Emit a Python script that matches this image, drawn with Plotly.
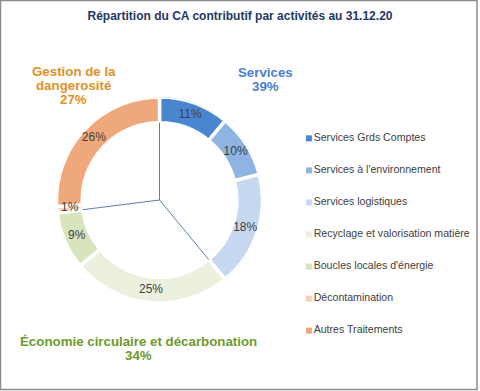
import plotly.graph_objects as go

# ---- data ----
categories = ["Services Grds Comptes", "Services à l'environnement", "Services logistiques",
              "Recyclage et valorisation matière", "Boucles locales d'énergie",
              "Décontamination", "Autres Traitements"]
values = [11, 10, 18, 25, 9, 1, 26]
colors = ["#4a86d0", "#8eb4e3", "#c6d9f1", "#ebf1de", "#d7e4bc", "#fbd0b2", "#eea87b"]

group_lines = [["Services"], ["Économie circulaire et décarbonation"], ["Gestion de la", "dangerosité"]]
group_sizes = [3, 2, 2]          # number of categories in each group
group_colors = ["#4a7fcb", "#6f9a2c", "#e0911f"]
title = "Répartition du CA contributif par activités au 31.12.20"

FONT = "Liberation Sans, Arial, sans-serif"
W, H = 480, 391
HOLE = 0.75

# donut geometry (pixel layout)
cx, cy, R = 159.5, 200.0, 103.0
dom_x = [(cx - R) / W, (cx + R) / W]
dom_y = [1 - (cy + R) / H, 1 - (cy - R) / H]

total = sum(values)
fig = go.Figure()

# slice angles from the data
cum = 0
mids, widths, texts = [], [], []
for v in values:
    mids.append((cum + v / 2) / total * 360)
    widths.append(v / total * 360)
    texts.append(f"{round(v / total * 100)}%")
    cum += v

fig.add_trace(go.Barpolar(
    theta=mids, r=[1 - HOLE] * len(values), base=[HOLE] * len(values), width=widths,
    marker=dict(color=colors, line=dict(color="white", width=3.5)),
    hovertext=[f"{c}: {v}%" for c, v in zip(categories, values)], hoverinfo="text",
    showlegend=False,
))

fig.add_trace(go.Scatterpolar(
    r=[(HOLE + 1) / 2] * len(values), theta=mids, text=texts, mode="text",
    textfont=dict(family=FONT, size=12, color="#404040"), hoverinfo="skip",
    showlegend=False, cliponaxis=False,
))

# group separator lines from centre to inner ring
r_line, t_line = [], []
start = 0
idx = 0
for gsize in group_sizes:
    ang = start / total * 360
    r_line += [0, HOLE, None]
    t_line += [ang, ang, None]
    start += sum(values[idx:idx + gsize])
    idx += gsize
fig.add_trace(go.Scatterpolar(
    r=r_line, theta=t_line, mode="lines", line=dict(color="#5b7eb0", width=1),
    hoverinfo="skip", showlegend=False,
))

# legend drawn as a categorical column
fig.add_trace(go.Scatter(
    x=[0] * len(categories), y=categories, mode="markers+text",
    marker=dict(symbol="square", size=6, color=colors),
    text=categories, textposition="middle right",
    textfont=dict(family=FONT, size=10.6, color="#404040"),
    hoverinfo="skip", showlegend=False, cliponaxis=False,
    xaxis="x", yaxis="y",
))

# group annotations (one annotation per line for tight line spacing)
group_totals = []
idx = 0
for gsize in group_sizes:
    group_totals.append(sum(values[idx:idx + gsize]))
    idx += gsize
group_pos = [(265, 72), (138, 341), (73.5, 71)]   # centre x, first-line y (px)
LINE_H = 14.3
annotations = []
for lines, gt, gc, (px, py) in zip(group_lines, group_totals, group_colors, group_pos):
    for k, line in enumerate(lines + [f"{round(gt / total * 100)}%"]):
        annotations.append(dict(
            text=f"<b>{line}</b>", x=px / W, y=1 - (py + k * LINE_H) / H,
            xref="paper", yref="paper", xanchor="center", yanchor="middle",
            showarrow=False, font=dict(family=FONT, size=13.3, color=gc),
        ))

fig.update_layout(
    width=W, height=H, margin=dict(l=0, r=0, t=0, b=0),
    paper_bgcolor="white", plot_bgcolor="rgba(0,0,0,0)",
    title=dict(text=f"<b>{title}</b>", x=0.5, xanchor="center", y=1 - 16 / H, yanchor="middle",
               font=dict(family=FONT, size=12, color="#1f3864")),
    polar=dict(domain=dict(x=dom_x, y=dom_y), bgcolor="rgba(0,0,0,0)",
               radialaxis=dict(visible=False, range=[0, 1]),
               angularaxis=dict(visible=False, direction="clockwise", rotation=90)),
    xaxis=dict(domain=[0.64, 1.0], range=[-0.05, 5], visible=False, fixedrange=True),
    yaxis=dict(domain=[1 - 346.7 / H, 1 - 122.3 / H], range=[6.5, -0.5], type="category",
               categoryorder="array", categoryarray=categories, visible=False, fixedrange=True),
    annotations=annotations,
    shapes=[dict(type="rect", xref="paper", yref="paper", x0=0.001, x1=477 / W,
                 y0=1 - 389.5 / H, y1=0.999, line=dict(color="#8c8c8c", width=1.5))],
    showlegend=False,
)

fig.write_html("out.html", config={"displayModeBar": False},
               post_script="document.body.style.margin='0';")
